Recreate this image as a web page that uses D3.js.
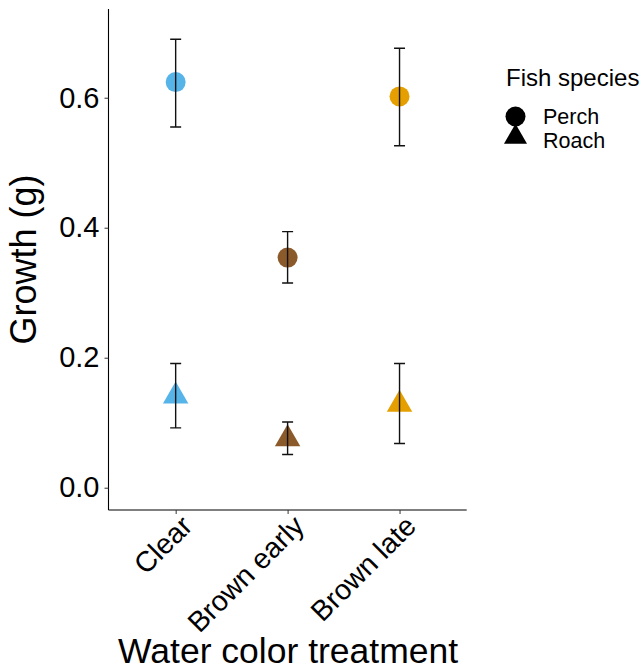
<!DOCTYPE html>
<html>
<head>
<meta charset="utf-8">
<script src="https://cdn.jsdelivr.net/npm/d3@7"></script>
<style>
  html, body { margin: 0; padding: 0; background: #fff; }
  svg { display: block; font-family: "Liberation Sans", Arial, Helvetica, sans-serif; }
</style>
</head>
<body>
<svg id="chart" width="644" height="671"></svg>
<script>
// Treatments on the x axis
const treatments = ["Clear", "Brown early", "Brown late"];
const treatmentColors = ["#56B4E9", "#8B5A2B", "#E69F00"];

// Mean growth (g) and error bar bounds per species and treatment
const perchMean = [0.624, 0.354, 0.602];
const perchLow  = [0.555, 0.315, 0.526];
const perchHigh = [0.690, 0.394, 0.676];

const roachMean = [0.141, 0.075, 0.128];
const roachLow  = [0.092, 0.051, 0.068];
const roachHigh = [0.191, 0.101, 0.191];

const species = ["Perch", "Roach"];
const yTicks = [0.0, 0.2, 0.4, 0.6];

const rows = [];
treatments.forEach((t, i) => {
  rows.push({ treatment: t, species: "Perch", mean: perchMean[i], low: perchLow[i], high: perchHigh[i], color: treatmentColors[i] });
  rows.push({ treatment: t, species: "Roach", mean: roachMean[i], low: roachLow[i], high: roachHigh[i], color: treatmentColors[i] });
});

const svg = d3.select("#chart");
const panel = { left: 108.5, right: 466.7, top: 9, bottom: 510 };

const x = d3.scalePoint()
  .domain(treatments)
  .range([panel.left, panel.right])
  .padding(0.6);

const y = d3.scaleLinear()
  .domain([-0.0343, 0.7365])
  .range([panel.bottom, panel.top]);

// Y axis
const yAxis = svg.append("g")
  .attr("transform", `translate(${panel.left},0)`)
  .call(d3.axisLeft(y).tickValues(yTicks).tickFormat(d3.format(".1f")).tickSize(4).tickPadding(5));
yAxis.select(".domain").attr("stroke", "#000").attr("stroke-width", 1.1).attr("d", `M0,${panel.top}V${panel.bottom}`);
yAxis.selectAll(".tick line").attr("stroke", "#333");
yAxis.selectAll(".tick text").attr("font-size", 29).attr("fill", "#000").attr("font-family", "Liberation Sans, Arial, sans-serif");

// X axis
const xAxis = svg.append("g")
  .attr("transform", `translate(0,${panel.bottom})`)
  .call(d3.axisBottom(x).tickSize(4).tickPadding(4));
xAxis.select(".domain").attr("stroke", "#000").attr("stroke-width", 1.1).attr("d", `M${panel.left},0H${panel.right}`);
xAxis.selectAll(".tick line").attr("stroke", "#333");
xAxis.selectAll(".tick text")
  .attr("font-size", 28.5)
  .attr("fill", "#000")
  .attr("font-family", "Liberation Sans, Arial, sans-serif")
  .attr("text-anchor", "end")
  .attr("dy", null)
  .attr("y", 0)
  .attr("transform", "translate(3,3) rotate(-45)")
  .attr("dominant-baseline", "hanging");

// Axis titles
svg.append("text")
  .attr("x", (panel.left + panel.right) / 2 + 0.5)
  .attr("y", 663)
  .attr("text-anchor", "middle")
  .attr("font-size", 35.5)
  .text("Water color treatment");

svg.append("text")
  .attr("transform", `translate(36,${(panel.top + panel.bottom) / 2}) rotate(-90)`)
  .attr("text-anchor", "middle")
  .attr("font-size", 36)
  .text("Growth (g)");

// Symbols
const circleSym = d3.symbol().type(d3.symbolCircle).size(Math.PI * 10 * 10);
const triSym = d3.symbol().type(d3.symbolTriangle).size(280);

const marks = svg.append("g");
marks.selectAll("path.pt")
  .data(rows)
  .join("path")
  .attr("class", "pt")
  .attr("transform", d => `translate(${x(d.treatment)},${y(d.mean)})`)
  .attr("d", d => d.species === "Perch" ? circleSym() : triSym())
  .attr("fill", d => d.color);

// Error bars drawn over the points
const capHalf = 5.5;
const eb = svg.append("g").attr("stroke", "#111").attr("stroke-width", 1.4).attr("fill", "none");
eb.selectAll("path")
  .data(rows)
  .join("path")
  .attr("d", d => {
    const cx = x(d.treatment), y0 = y(d.low), y1 = y(d.high);
    return `M${cx - capHalf},${y1}H${cx + capHalf}M${cx},${y1}V${y0}M${cx - capHalf},${y0}H${cx + capHalf}`;
  });

// Legend
const legend = svg.append("g");
legend.append("text")
  .attr("x", 506)
  .attr("y", 86)
  .attr("font-size", 24)
  .text("Fish species");

const legendRows = legend.selectAll("g.item")
  .data(species)
  .join("g")
  .attr("class", "item")
  .attr("transform", (d, i) => `translate(0,${i * 24})`);
legendRows.append("path")
  .attr("transform", (d, i) => `translate(515.5,${i === 0 ? 116.5 : 113})`)
  .attr("d", (d, i) => i === 0 ? circleSym() : d3.symbol().type(d3.symbolTriangle).size(230)())
  .attr("fill", "#000");
legendRows.append("text")
  .attr("x", 543)
  .attr("y", 123.5)
  .attr("font-size", 21.5)
  .text(d => d);
</script>
</body>
</html>
